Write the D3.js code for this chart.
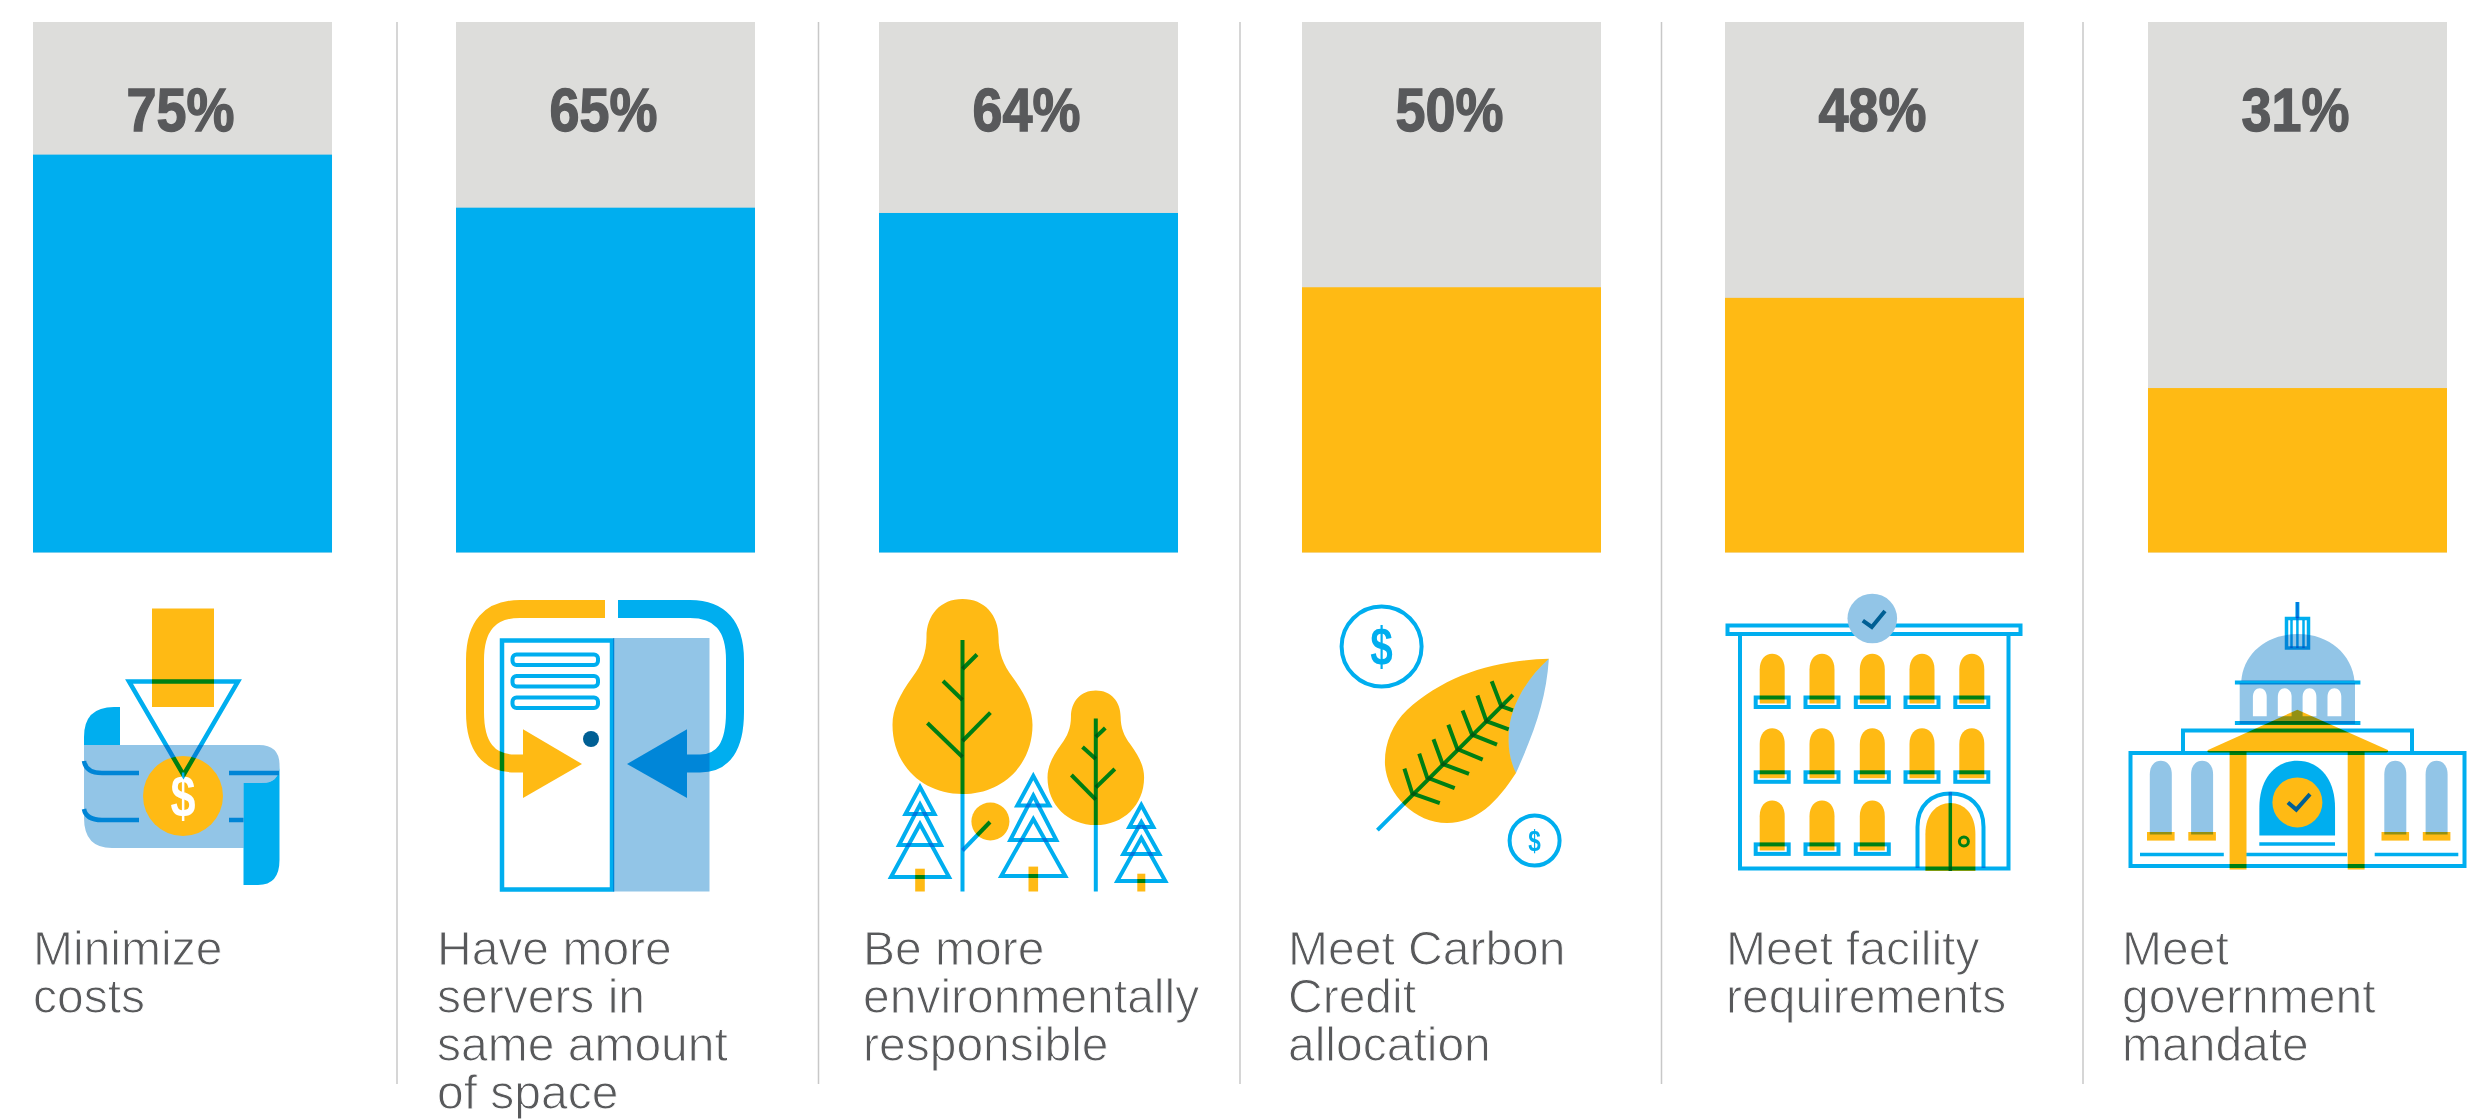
<!DOCTYPE html>
<html>
<head>
<meta charset="utf-8">
<script src="https://cdn.jsdelivr.net/npm/d3@7"></script>
<style>
  html, body { margin: 0; background: #fff; }
  svg { display: block; }
  .pct { font: bold 62px "Liberation Sans", sans-serif; fill: #58595b; stroke: #58595b; stroke-width: 1.4px; text-anchor: middle; }
  .lbl { font: 48px "Liberation Sans", sans-serif; fill: #58595b; stroke: #fff; stroke-width: 1px; }
  .m { mix-blend-mode: multiply; }
</style>
</head>
<body>
<svg id="chart" width="2489" height="1119"></svg>
<script>
const categories = ['Minimize costs', 'Have more servers', 'Be more responsible', 'Meet Carbon Credit', 'Meet facility', 'Meet mandate'];
const values = [75, 65, 64, 50, 48, 31];
const labelLines = [
  ['Minimize', 'costs'],
  ['Have more', 'servers in', 'same amount', 'of  space'],
  ['Be more', 'environmentally', 'responsible'],
  ['Meet Carbon', 'Credit', 'allocation'],
  ['Meet facility', 'requirements'],
  ['Meet', 'government', 'mandate']
];

const BLUE = '#00aeef', YELLOW = '#ffba14', GREY = '#dddddb', PALE = '#92c5e7', NAVY = '#005f94', MID = '#0085d6';

const svg = d3.select('#chart');

const x = d3.scaleBand().domain(categories).range([33, 2447]).paddingInner(0.2931).paddingOuter(0);
const y = d3.scaleLinear().domain([0, 100]).range([552.5, 22]);
const color = d3.scaleThreshold().domain([60]).range([YELLOW, BLUE]);

// separators
svg.selectAll('.sep').data(categories.slice(1)).enter().append('line')
  .attr('x1', (d, i) => 397 + i * 421.5).attr('x2', (d, i) => 397 + i * 421.5)
  .attr('y1', 22).attr('y2', 1084)
  .style('stroke', '#c8c8c8').style('stroke-width', 1.5);

// bars
svg.selectAll('.bg').data(categories).enter().append('rect')
  .attr('x', d => x(d)).attr('width', x.bandwidth())
  .attr('y', y(100)).attr('height', y(0) - y(100))
  .style('fill', GREY);

svg.selectAll('.bar').data(values).enter().append('rect')
  .attr('x', (d, i) => x(categories[i])).attr('width', x.bandwidth())
  .attr('y', d => y(d)).attr('height', d => y(0) - y(d))
  .style('fill', d => color(d));

svg.selectAll('.pct').data(values).enter().append('text')
  .attr('class', 'pct')
  .attr('transform', (d, i) => `translate(${x(categories[i]) + x.bandwidth() / 2 - 2},131) scale(.87,1)`)
  .text(d => d + '%');

// labels
const labelLeft = [33, 437, 863, 1288, 1726, 2122];
labelLines.forEach((lines, i) => {
  const t = svg.append('text').attr('class', 'lbl');
  lines.forEach((s, j) => {
    t.append('tspan').attr('x', labelLeft[i]).attr('y', 964.5 + j * 48).text(s);
  });
});

// ---- icon helpers
const ic = svg.append('g');
function path(d, fill, stroke, sw, blend) {
  return ic.append('path').attr('d', d)
    .attr('class', blend === false ? null : 'm')
    .style('fill', fill || 'none').style('stroke', stroke || 'none')
    .style('stroke-width', sw || 0);
}
function rect(x0, y0, x1, y1, fill, stroke, sw, rx, blend) {
  return ic.append('rect').attr('x', x0).attr('y', y0).attr('width', x1 - x0).attr('height', y1 - y0)
    .attr('rx', rx || 0)
    .attr('class', blend === false ? null : 'm')
    .style('fill', fill || 'none').style('stroke', stroke || 'none').style('stroke-width', sw || 0);
}
function circle(cx, cy, r, fill, stroke, sw, blend) {
  return ic.append('circle').attr('cx', cx).attr('cy', cy).attr('r', r)
    .attr('class', blend === false ? null : 'm')
    .style('fill', fill || 'none').style('stroke', stroke || 'none').style('stroke-width', sw || 0);
}
function line(x0, y0, x1, y1, stroke, sw) {
  return path(`M${x0},${y0}L${x1},${y1}`, null, stroke, sw);
}
function dollar(cx, cy, size, fill) {
  ic.append('text').attr('transform', `translate(${cx},${cy + size * 0.35}) scale(.75,1)`)
    .style('font', `bold ${size}px "Liberation Sans", sans-serif`)
    .style('text-anchor', 'middle').style('fill', fill).text('$');
}
function arch(cx, w, top, bottom) {
  const r = w / 2, ry = Math.min(r * 1.25, (bottom - top));
  return `M${cx - r},${bottom}V${top + ry}C${cx - r},${top + ry * 0.35} ${cx - r * 0.55},${top} ${cx},${top}C${cx + r * 0.55},${top} ${cx + r},${top + ry * 0.35} ${cx + r},${top + ry}V${bottom}Z`;
}

// ---- money
rect(152, 608.5, 214, 707, YELLOW);
path('M84,745V737Q84,707 114,707H120V745Z', BLUE);
path('M84,745H259Q279.5,745 279.5,765Q279.5,783 262,783H243.5V848H112Q84,848 84,818Z', PALE);
path('M243.5,783H262Q279.5,783 279.5,765V860Q279.5,885 258,885H243.5Z', BLUE);
path('M84,761Q86,773 102,773H139M229,773H279M84,809Q86,820 102,820H139M229,820H243.5', null, MID, 4.5, false);
circle(183, 796, 40, YELLOW, null, 0, false);
dollar(183, 796, 60, '#fff');
path('M129,681.5H238L183.5,775Z', null, BLUE, 4.5);

// ---- server
rect(613, 638, 709.5, 891.5, PALE);
path('M605,609H520Q475,609 475,660V712Q475,763.5 515,763.5H523', null, YELLOW, 18);
path('M523,729.3L582,764L523,798Z', YELLOW);
path('M618,609H690Q735,609 735,660V712Q735,763.5 700,763.5H687', null, BLUE, 18);
path('M687,729.3L627,764L687,798Z', BLUE);
rect(502, 640.5, 612, 889.5, null, BLUE, 4.5);
rect(512.5, 654.5, 598, 665, null, BLUE, 4, 4);
rect(512.5, 676, 598, 686.5, null, BLUE, 4, 4);
rect(512.5, 697.5, 598, 708, null, BLUE, 4, 4);
circle(591, 739, 8, NAVY, null, 0, false);

// ---- trees
function pear(cx, top, k) {
  const p = (a, b) => `${cx + a * k},${top + b * k}`;
  return `M${p(0, 0)}C${p(22, 0)} ${p(36, 16)} ${p(36, 38)}C${p(36, 54)} ${p(41, 66)} ${p(50, 78)}C${p(63, 96)} ${p(70, 110)} ${p(70, 126)}C${p(70, 166)} ${p(40, 195)} ${p(0, 195)}C${p(-40, 195)} ${p(-70, 166)} ${p(-70, 126)}C${p(-70, 110)} ${p(-63, 96)} ${p(-50, 78)}C${p(-41, 66)} ${p(-36, 54)} ${p(-36, 38)}C${p(-36, 16)} ${p(-22, 0)} ${p(0, 0)}Z`;
}
function pine(cx, tris, trunk) {
  rect(cx - trunk[0], trunk[1], cx + trunk[0], 891.5, YELLOW);
  tris.forEach(t => path(`M${cx},${t[0]}L${cx + t[2]},${t[1]}H${cx - t[2]}Z`, null, BLUE, 4));
}
path(pear(962.5, 599, 1), YELLOW);
path(pear(1095.8, 690.5, 0.69), YELLOW);
ic.append('ellipse').attr('cx', 990.4).attr('cy', 821.5).attr('rx', 19).attr('ry', 19).style('fill', YELLOW).attr('class', 'm');
line(962.5, 640, 962.5, 891.5, BLUE, 4);
line(962.5, 669, 977, 654.5, BLUE, 4);
line(962.5, 700, 943, 681, BLUE, 4);
line(962.5, 741, 990.4, 712.6, BLUE, 4);
line(962.5, 757, 927.4, 723, BLUE, 4);
line(962.5, 850.5, 990, 822, BLUE, 4);
line(1095.8, 718.6, 1095.8, 891.5, BLUE, 4);
line(1095.8, 737, 1105.3, 728, BLUE, 4);
line(1095.8, 759, 1082.5, 747, BLUE, 4);
line(1095.8, 787.5, 1114.8, 769, BLUE, 4);
line(1095.8, 799.6, 1071.4, 775, BLUE, 4);
pine(920, [[824, 877, 29], [804.5, 845, 21], [787, 814, 14.5]], [4.8, 868.7]);
pine(1033.3, [[819, 876, 32], [795.5, 840, 23], [776, 805.5, 16]], [4.8, 866.6]);
pine(1141.3, [[838, 881, 24], [822, 854, 18], [805, 827, 12]], [4, 873.7]);

// ---- leaf
circle(1381.6, 646.5, 40, null, BLUE, 4);
dollar(1381.6, 646.5, 54, BLUE);
circle(1534.6, 840.6, 25, null, BLUE, 4);
dollar(1534.6, 840.6, 30, BLUE);
path('M1548.9,658.8C1495,660 1445,675 1407,710C1392,724 1384,745 1385,765C1387,795 1415,823 1447,823C1477,823 1497,802 1516,773C1512,765 1508,752 1508.7,738C1508,710 1525,680 1548.9,658.8Z', YELLOW);
path('M1548.9,658.8C1525,680 1508,710 1508.7,738C1508,752 1512,765 1516,773C1535,730 1546,700 1548.9,658.8Z', PALE);
line(1377.4, 830.2, 1512.9, 694.8, BLUE, 4);
[[1412.3, 793.5, 1404.4, 768.6, 1439.8, 803.1], [1427.1, 777.5, 1419.2, 753.6, 1454.7, 788.2],
 [1442.5, 763.9, 1433.5, 739.3, 1469, 773.9], [1457.3, 749, 1448.3, 724.7, 1482.7, 759.6],
 [1472.1, 734.7, 1462.6, 710.4, 1497, 744.7], [1486.4, 721.1, 1477.4, 695.5, 1508.7, 729.3],
 [1501.3, 706.2, 1491.7, 681.2, 1512.9, 710.4]].forEach(r => {
  path(`M${r[2]},${r[3]}L${r[0]},${r[1]}L${r[4]},${r[5]}`, null, BLUE, 4);
});

// ---- building
[1772.2, 1822, 1872.3, 1922, 1971.8].forEach(cx => {
  [[653.8, 695.5], [728.3, 770.3], [800.6, 842.4]].forEach((w, row) => {
    if (row === 2 && cx > 1900) return;
    path(arch(cx, 25, w[0], w[1] + 8), YELLOW);
    rect(cx - 16.5, w[1] + 2, cx + 16.5, w[1] + 11.5, null, BLUE, 4);
  });
});
rect(1727.5, 625.5, 2020.5, 634, '#fff', BLUE, 4);
path('M1740,636V868.5H2008.5V636', null, BLUE, 4);
path(arch(1950.4, 50, 803, 871), YELLOW);
path('M1917.5,868V827C1917.5,805 1932,793.5 1950.5,793.5C1969,793.5 1983.5,805 1983.5,827V868', null, BLUE, 4);
line(1950.3, 792, 1950.3, 871, BLUE, 3.5);
circle(1963.9, 841.6, 4.5, null, BLUE, 3);
circle(1872.3, 618.5, 24.8, PALE, null, 0, false);
path('M1862.8,620.6L1871.8,627L1885,611', null, NAVY, 4, false);

// ---- capitol
path('M2241.3,681C2243,655 2265,634 2297.9,634C2330,634 2352,655 2354.5,681Z', PALE);
rect(2239.7, 683, 2355, 724, PALE);
[2259.8, 2284.7, 2309.5, 2334.4].forEach(cx => {
  ic.append('path').attr('d', arch(cx, 13.8, 688.3, 716.2)).style('fill', '#fff');
});
rect(2234.9, 680.5, 2360.4, 684.5, BLUE);
rect(2234.9, 721, 2360.4, 725, BLUE);
rect(2286.5, 618.5, 2308.5, 648, null, BLUE, 3.5);
path('M2291.5,620V648M2297.4,602V648M2303.5,620V648', null, BLUE, 2.5);
line(2297.4, 602, 2297.4, 618, BLUE, 4);
path('M2183,751V730.5H2412V751', null, BLUE, 4);
rect(2130.5, 753, 2464.5, 866, null, BLUE, 4);
path('M2297.4,709.7L2387.9,750Q2389,752.5 2385,752.5H2210Q2206,752.5 2208,750Z', YELLOW);
rect(2229.6, 751.4, 2246.5, 869.5, YELLOW);
rect(2347.7, 751.4, 2364.6, 869.5, YELLOW);
[2160.8, 2202.1, 2395.3, 2436.6].forEach(cx => {
  path(arch(cx, 22, 760.7, 834.5), PALE);
  rect(cx - 13.8, 832, cx + 13.8, 840.6, YELLOW);
});
path(arch(2297.2, 75.7, 760.7, 835.6), BLUE);
circle(2297.4, 802.4, 25, YELLOW, null, 0, false);
path('M2287.9,802.4L2296.3,809.6L2310,794.2', null, NAVY, 4, false);
line(2259.3, 844, 2335, 844, BLUE, 3.5);
line(2140, 854.5, 2223.8, 854.5, BLUE, 3.5);
line(2246.5, 854.5, 2347, 854.5, BLUE, 3.5);
line(2374.7, 854.5, 2458.3, 854.5, BLUE, 3.5);
</script>
</body>
</html>
